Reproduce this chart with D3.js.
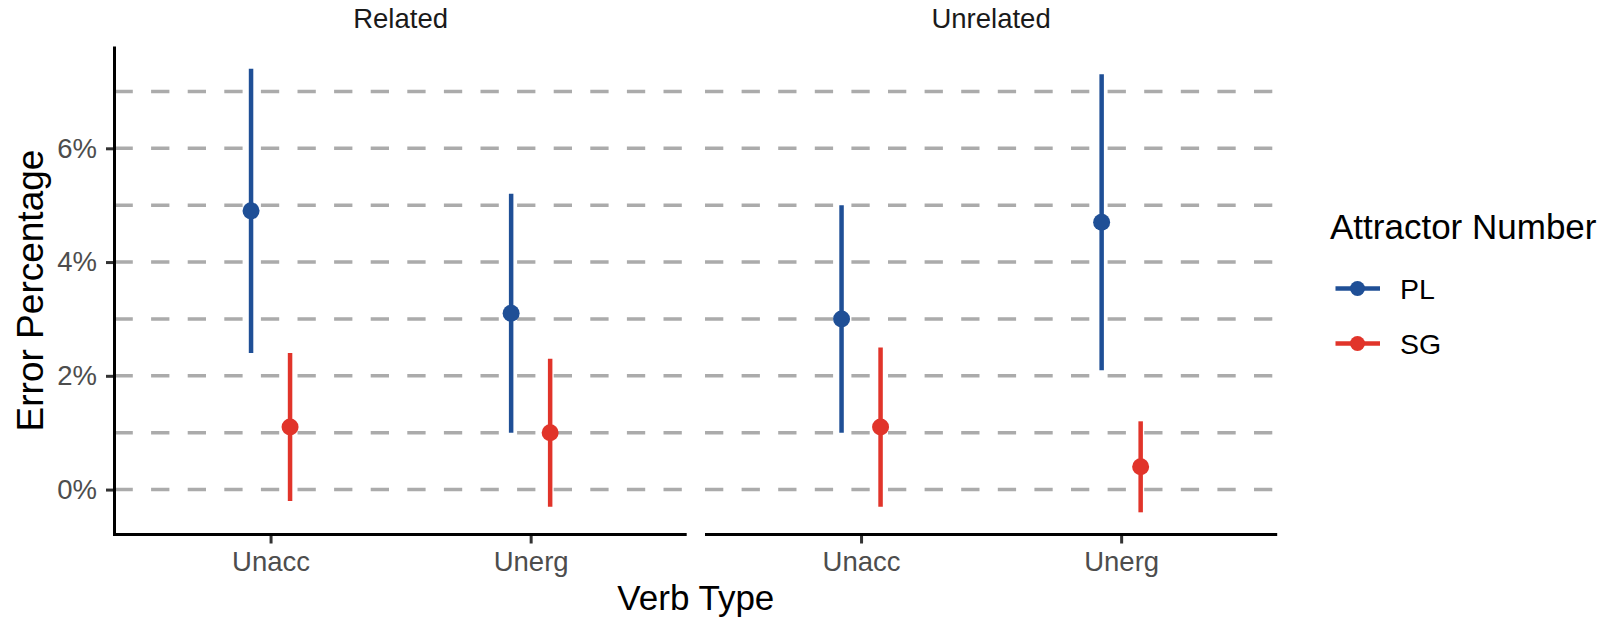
<!DOCTYPE html>
<html>
<head>
<meta charset="utf-8">
<script src="https://cdn.jsdelivr.net/npm/d3@7"></script>
<style>
  html, body { margin: 0; padding: 0; background: #ffffff; }
  svg { display: block; font-family: "Liberation Sans", Arial, Helvetica, sans-serif; }
</style>
</head>
<body>
<svg id="chart" width="1614" height="620"></svg>
<script>
// Facets, categories and groups
const facets = ["Related", "Unrelated"];
const verbTypes = ["Unacc", "Unerg"];
const groups = ["PL", "SG"];

// Error percentages per facet x verb type (Related-Unacc, Related-Unerg, Unrelated-Unacc, Unrelated-Unerg)
const plMean  = [4.9, 3.1, 3.0, 4.7];
const plLower = [2.4, 1.0, 1.0, 2.1];
const plUpper = [7.4, 5.2, 5.0, 7.3];
const sgMean  = [1.1, 1.0, 1.1, 0.4];
const sgLower = [-0.2, -0.3, -0.3, -0.4];
const sgUpper = [2.4, 2.3, 2.5, 1.2];

const yTickValues = [0, 2, 4, 6];
const gridValues = [0, 1, 2, 3, 4, 5, 6, 7];

const colors = { PL: "#1f4f96", SG: "#e1342a" };

// Build long-format rows
const rows = [];
facets.forEach((f, fi) => {
  verbTypes.forEach((v, vi) => {
    const i = fi * verbTypes.length + vi;
    rows.push({ facet: f, verb: v, group: "PL", mean: plMean[i], lo: plLower[i], hi: plUpper[i] });
    rows.push({ facet: f, verb: v, group: "SG", mean: sgMean[i], lo: sgLower[i], hi: sgUpper[i] });
  });
});

const svg = d3.select("#chart");

// Layout
const panelTop = 46.5, panelBottom = 534.5;
const panels = [
  { facet: "Related",   x0: 114.5, x1: 686.7 },
  { facet: "Unrelated", x0: 705,   x1: 1277.2 }
];

// y scale with 5% expansion around the data range
const yMin = d3.min(rows, d => d.lo), yMax = d3.max(rows, d => d.hi);
const pad = (yMax - yMin) * 0.05;
const y = d3.scaleLinear().domain([yMin - pad, yMax + pad]).range([panelBottom, panelTop]);

const tickFont = 27.5;
const titleFont = 35;

panels.forEach((p, pi) => {
  const x = d3.scalePoint().domain(verbTypes).range([p.x0, p.x1]).padding(0.6);
  const dodge = d3.scalePoint().domain(groups).range([-0.075, 0.075]).padding(0);
  const g = svg.append("g");

  // dashed gridlines
  g.selectAll("line.grid").data(gridValues).join("line")
    .attr("class", "grid")
    .attr("x1", p.x0).attr("x2", p.x1)
    .attr("y1", d => y(d)).attr("y2", d => y(d))
    .attr("stroke", "#ababab").attr("stroke-width", 3.5)
    .attr("stroke-dasharray", "18.3,18.3");

  // strip label
  svg.append("text")
    .attr("x", (p.x0 + p.x1) / 2).attr("y", 27.5)
    .attr("text-anchor", "middle")
    .attr("font-size", tickFont).attr("fill", "#1a1a1a")
    .text(p.facet);

  const data = rows.filter(r => r.facet === p.facet);
  const cx = d => x(d.verb) + dodge(d.group) * x.step();

  // error bars
  g.selectAll("line.err").data(data).join("line")
    .attr("class", "err")
    .attr("x1", cx).attr("x2", cx)
    .attr("y1", d => y(d.lo)).attr("y2", d => y(d.hi))
    .attr("stroke", d => colors[d.group]).attr("stroke-width", 4.5);

  // points
  g.selectAll("circle.pt").data(data).join("circle")
    .attr("class", "pt")
    .attr("cx", cx).attr("cy", d => y(d.mean)).attr("r", 8.5)
    .attr("fill", d => colors[d.group]);

  // x axis
  const xAxis = g.append("g")
    .attr("transform", `translate(0,${panelBottom})`)
    .call(d3.axisBottom(x).tickSize(9).tickSizeOuter(0).tickPadding(8));
  xAxis.select(".domain").remove();
  xAxis.selectAll(".tick line").attr("stroke", "#333333").attr("stroke-width", 3);
  xAxis.selectAll(".tick text").attr("font-size", tickFont).attr("fill", "#4d4d4d")
    .attr("font-family", "Liberation Sans, Arial, sans-serif");
  g.append("line")
    .attr("x1", pi === 0 ? p.x0 - 1.5 : p.x0).attr("x2", p.x1)
    .attr("y1", panelBottom).attr("y2", panelBottom)
    .attr("stroke", "#000").attr("stroke-width", 3);

  // y axis on first panel only
  if (pi === 0) {
    const yAxis = g.append("g")
      .attr("transform", `translate(${p.x0},0)`)
      .call(d3.axisLeft(y).tickValues(yTickValues).tickFormat(d => d + "%")
        .tickSize(8.5).tickSizeOuter(0).tickPadding(9));
    yAxis.select(".domain").remove();
    yAxis.selectAll(".tick line").attr("stroke", "#333333").attr("stroke-width", 3);
    yAxis.selectAll(".tick text").attr("font-size", tickFont).attr("fill", "#4d4d4d")
      .attr("font-family", "Liberation Sans, Arial, sans-serif");
    g.append("line")
      .attr("x1", p.x0).attr("x2", p.x0)
      .attr("y1", panelTop).attr("y2", panelBottom + 1.5)
      .attr("stroke", "#000").attr("stroke-width", 3);
  }
});

// axis titles
svg.append("text")
  .attr("x", (panels[0].x0 + panels[1].x1) / 2).attr("y", 610)
  .attr("text-anchor", "middle").attr("font-size", titleFont).attr("fill", "#000")
  .text("Verb Type");

svg.append("text")
  .attr("transform", `translate(43,${(panelTop + panelBottom) / 2}) rotate(-90)`)
  .attr("text-anchor", "middle").attr("font-size", 37).attr("fill", "#000")
  .text("Error Percentage");

// legend
const legend = svg.append("g").attr("transform", "translate(1330,0)");
legend.append("text")
  .attr("x", 0).attr("y", 239)
  .attr("font-size", titleFont).attr("fill", "#000")
  .text("Attractor Number");

const keyY = d3.scalePoint().domain(groups).range([288.5, 343.5]);
const keys = legend.selectAll("g.key").data(groups).join("g")
  .attr("class", "key")
  .attr("transform", d => `translate(0,${keyY(d)})`);
keys.append("line")
  .attr("x1", 5.5).attr("x2", 50).attr("y1", 0).attr("y2", 0)
  .attr("stroke", d => colors[d]).attr("stroke-width", 4.5);
keys.append("circle")
  .attr("cx", 27.5).attr("cy", 0).attr("r", 7.5)
  .attr("fill", d => colors[d]);
keys.append("text")
  .attr("x", 70).attr("y", 0).attr("dy", "0.36em")
  .attr("font-size", 28.5).attr("fill", "#000")
  .text(d => d);
</script>
</body>
</html>
